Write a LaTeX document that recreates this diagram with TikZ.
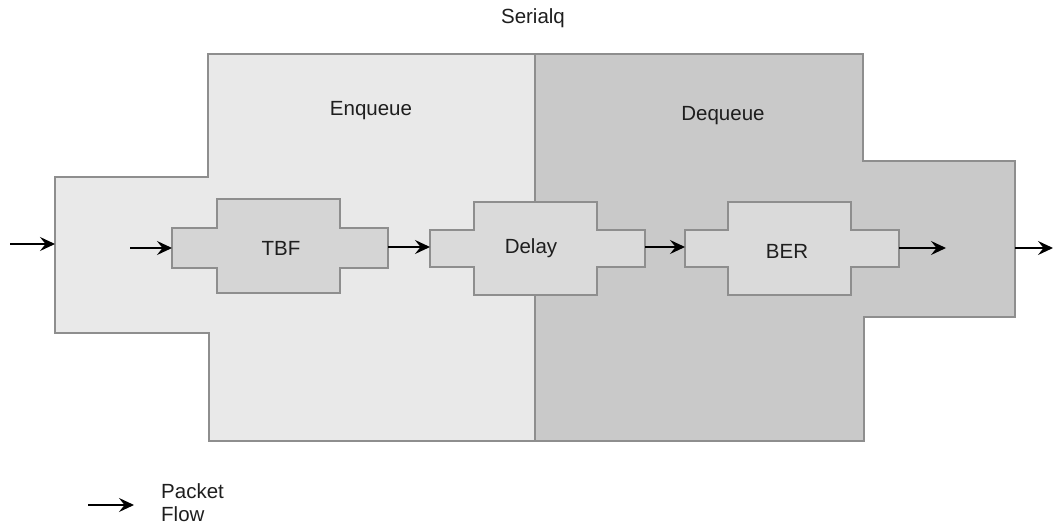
\documentclass[tikz,border=0pt]{standalone}
\usepackage{fontspec}
\setmainfont{Liberation Sans}
\usetikzlibrary{arrows.meta}

\definecolor{edgegray}{HTML}{8E8E8E}
\definecolor{enqfill}{HTML}{E9E9E9}
\definecolor{deqfill}{HTML}{C9C9C9}
\definecolor{tbffill}{HTML}{D5D5D5}
\definecolor{stagefill}{HTML}{DADADA}
\definecolor{inktext}{HTML}{1E1E1E}

\begin{document}
\begin{tikzpicture}[x=1pt, y=-1pt,
  region/.style={draw=edgegray, line width=1.3pt},
  stagebox/.style={draw=edgegray, line width=1.2pt},
  flow/.style={-{Stealth[length=15pt, width=14pt, inset=5.5pt]}, line width=1.4pt, black},
  lbl/.style={font=\fontsize{20.5}{25}\selectfont, text=inktext, inner sep=0pt}]

\useasboundingbox (0,0) rectangle (1053,527);

% Enqueue and Dequeue regions
\path[region, fill=enqfill]
  (55,177) -- (208,177) -- (208,54) -- (535,54) -- (535,441)
  -- (209,441) -- (209,333) -- (55,333) -- cycle;
\path[region, fill=deqfill]
  (535,54) -- (863,54) -- (863,161) -- (1015,161) -- (1015,317)
  -- (864,317) -- (864,441) -- (535,441) -- cycle;

% Stages
\path[stagebox, fill=tbffill]
  (172,228) -- (217,228) -- (217,199) -- (340,199) -- (340,228) -- (388,228)
  -- (388,268) -- (340,268) -- (340,293) -- (217,293) -- (217,268) -- (172,268) -- cycle;
\path[stagebox, fill=stagefill]
  (430,230) -- (474,230) -- (474,202) -- (597,202) -- (597,230) -- (645,230)
  -- (645,267) -- (597,267) -- (597,295) -- (474,295) -- (474,267) -- (430,267) -- cycle;
\path[stagebox, fill=stagefill]
  (685,230) -- (728,230) -- (728,202) -- (851,202) -- (851,230) -- (899,230)
  -- (899,267) -- (851,267) -- (851,295) -- (728,295) -- (728,267) -- (685,267) -- cycle;

% Labels
\node[lbl] (serialq) at (533,18) {Serialq};
\node[lbl] (enq) at (371,111) {Enqueue};
\node[lbl] (deq) at (723,116) {Dequeue};
\node[lbl] (tbf) at (281,248) {TBF};
\node[lbl] (delay) at (531,248) {Delay};
\node[lbl] (ber) at (787,251) {BER};

% Ports
\coordinate (src)     at (10,244);
\coordinate (sq-in)   at (55,244);
\coordinate (enq-src) at (130,248);
\coordinate (tbf-in)  at (172,248);
\coordinate (tbf-out) at (388,247);
\coordinate (dly-in)  at (430,247);
\coordinate (dly-out) at (645,247);
\coordinate (ber-in)  at (685,247);
\coordinate (ber-out) at (899,248);
\coordinate (deq-snk) at (946,248);
\coordinate (sq-out)  at (1015,248);
\coordinate (snk)     at (1053,248);

% Packet flow
\draw[flow] (src) -- (sq-in);
\draw[flow] (enq-src) -- (tbf-in);
\draw[flow] (tbf-out) -- (dly-in);
\draw[flow] (dly-out) -- (ber-in);
\draw[flow] (ber-out) -- (deq-snk);
\draw[flow] (sq-out) -- (snk);

% Legend
\coordinate (key-a) at (88,505);
\coordinate (key-b) at (134,505);
\draw[flow] (key-a) -- (key-b);
\node[lbl, anchor=west, align=left, font=\fontsize{20.5}{23}\selectfont] (key) at (161,503) {Packet\\Flow};
\end{tikzpicture}
\end{document}
